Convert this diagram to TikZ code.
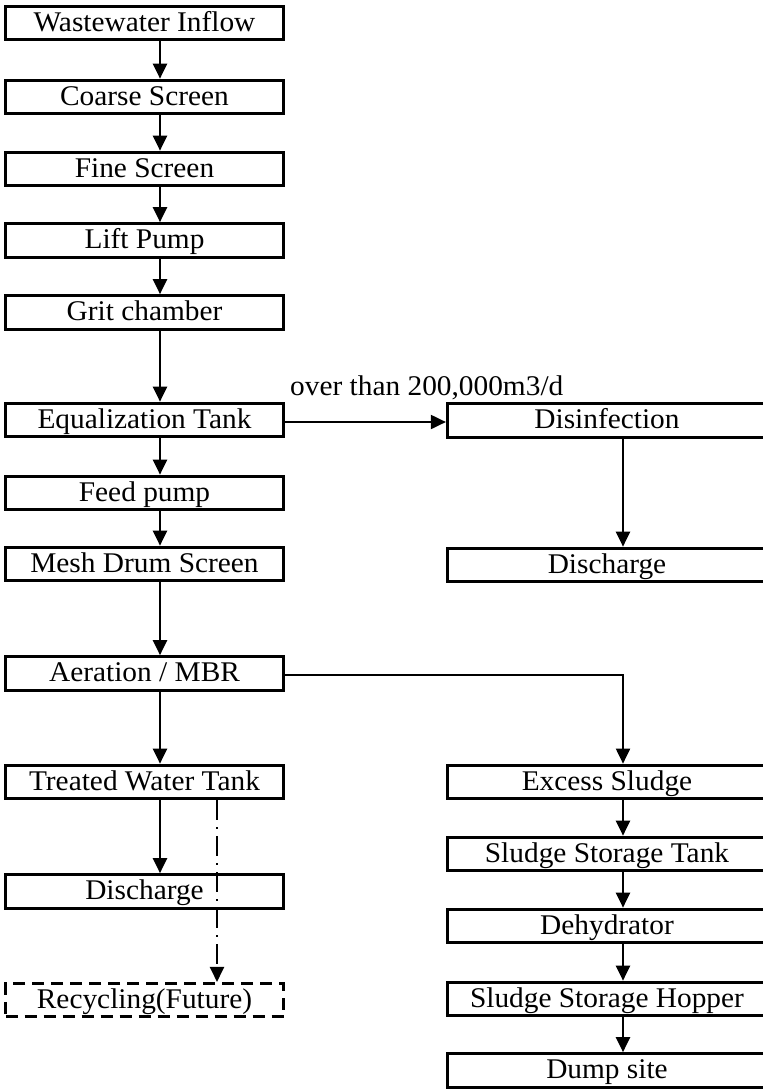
\documentclass[tikz,border=0pt]{standalone}
\usepackage{fontspec}
\setmainfont{Liberation Serif}[FakeStretch=1.03]
\usetikzlibrary{arrows.meta}
\begin{document}
\begin{tikzpicture}[x=1pt,y=-1pt,
  box/.style={draw, line width=3.2pt, rectangle, inner sep=0pt, minimum height=33.5pt, text height=18pt, text depth=2pt, font=\fontsize{28.5}{33}\selectfont},
  lbox/.style={box, minimum width=278pt},
  rbox/.style={box, minimum width=319pt},
  dbox/.style={lbox, line width=2.6pt, dash pattern=on 12pt off 7pt},
  arr/.style={line width=2.2pt, -{Triangle[width=14pt,length=15pt]}},
  harr/.style={line width=2pt, -{Triangle[width=14pt,length=15pt]}},
  ddarr/.style={line width=2.2pt, dash pattern=on 20pt off 7pt on 2pt off 7pt, -{Triangle[width=14pt,length=15pt]}},
  lbl/.style={font=\fontsize{28.5}{33}\selectfont, inner sep=0pt}
]
\clip (0,0) rectangle (763,1090);
\useasboundingbox (0,0) rectangle (763,1090);
\coordinate (xl) at (160,0);
\coordinate (xd) at (217,0);
\coordinate (xr) at (623,0);
% left column
\node[lbox] (win) at (144.5,23) {Wastewater Inflow};
\node[lbox] (cs) at (144.5,97) {Coarse Screen};
\node[lbox] (fs) at (144.5,169) {Fine Screen};
\node[lbox] (lp) at (144.5,240.5) {Lift Pump};
\node[lbox] (gc) at (144.5,312.5) {Grit chamber};
\node[lbox] (eq) at (144.5,420) {Equalization Tank};
\node[lbox] (fp) at (144.5,493) {Feed pump};
\node[lbox] (md) at (144.5,564) {Mesh Drum Screen};
\node[lbox] (aer) at (144.5,673.5) {Aeration / MBR};
\node[lbox] (tw) at (144.5,782) {Treated Water Tank};
\node[lbox] (dl) at (144.5,891.5) {Discharge};
\node[dbox] (rec) at (144.5,1000) {Recycling(Future)};
% right column
\node[rbox] (dis) at (607,420.5) {Disinfection};
\node[rbox] (dr) at (607,565) {Discharge};
\node[rbox] (exs) at (607,782) {Excess Sludge};
\node[rbox] (sst) at (607,854) {Sludge Storage Tank};
\node[rbox] (deh) at (607,926) {Dehydrator};
\node[rbox] (hop) at (607,999) {Sludge Storage Hopper};
\node[rbox] (dump) at (607,1070.5) {Dump site};
% label
\node[lbl, anchor=base west] (over) at (290,395) {over than 200,000m3/d};
% left connectors
\draw[arr] (win.south -| xl) -- (cs.north -| xl);
\draw[arr] (cs.south -| xl) -- (fs.north -| xl);
\draw[arr] (fs.south -| xl) -- (lp.north -| xl);
\draw[arr] (lp.south -| xl) -- (gc.north -| xl);
\draw[arr] (gc.south -| xl) -- (eq.north -| xl);
\draw[arr] (eq.south -| xl) -- (fp.north -| xl);
\draw[arr] (fp.south -| xl) -- (md.north -| xl);
\draw[arr] (md.south -| xl) -- (aer.north -| xl);
\draw[arr] (aer.south -| xl) -- (tw.north -| xl);
\draw[arr] (tw.south -| xl) -- (dl.north -| xl);
\draw[ddarr] (tw.south -| xd) -- (rec.north -| xd);
% cross connectors
\draw[harr] ([yshift=-2pt]eq.east) -- ([yshift=-2pt]eq.east -| dis.west);
\draw[arr] (dis.south -| xr) -- (dr.north -| xr);
\draw[harr] ([yshift=-1.5pt]aer.east) -- ([yshift=-1.5pt]xr |- aer.east) -- (exs.north -| xr);
% right connectors
\draw[arr] (exs.south -| xr) -- (sst.north -| xr);
\draw[arr] (sst.south -| xr) -- (deh.north -| xr);
\draw[arr] (deh.south -| xr) -- (hop.north -| xr);
\draw[arr] (hop.south -| xr) -- (dump.north -| xr);
\end{tikzpicture}
\end{document}
